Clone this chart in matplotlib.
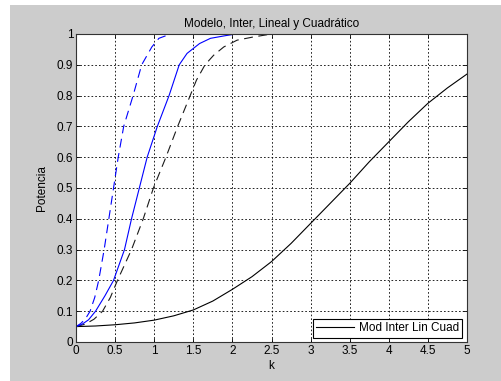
import matplotlib
matplotlib.use("Agg")
import matplotlib.pyplot as plt
from matplotlib.patches import Rectangle

plt.rcParams['font.family'] = ['Liberation Sans', 'DejaVu Sans']

# power curves (k vs potencia) read per model
k_lin_dash = [0, 0.06, 0.12, 0.18, 0.24, 0.29, 0.36, 0.42, 0.48, 0.54, 0.61, 0.73, 0.84, 0.97, 1.06, 1.21, 5.0]
p_lin_dash = [0.05, 0.06, 0.075, 0.10, 0.145, 0.20, 0.30, 0.40, 0.50, 0.60, 0.70, 0.80, 0.90, 0.958, 0.986, 1.0, 1.0]

k_lin = [0, 0.08, 0.16, 0.25, 0.37, 0.48, 0.62, 0.71, 0.81, 0.91, 1.04, 1.19, 1.32, 1.42, 1.58, 1.72, 1.92, 2.05, 5.0]
p_lin = [0.05, 0.058, 0.072, 0.10, 0.15, 0.20, 0.30, 0.40, 0.50, 0.60, 0.70, 0.80, 0.90, 0.937, 0.969,
         0.986, 0.995, 1.0, 1.0]

k_cuad_dash = [0, 0.12, 0.23, 0.34, 0.44, 0.53, 0.71, 0.86, 0.99, 1.15, 1.30, 1.46, 1.54, 1.65, 1.76,
               1.89, 2.06, 2.26, 2.5, 5.0]
p_cuad_dash = [0.05, 0.058, 0.074, 0.10, 0.145, 0.20, 0.30, 0.40, 0.50, 0.60, 0.70, 0.80, 0.85, 0.90,
               0.931, 0.958, 0.98, 0.99, 1.0, 1.0]

k_inter = [0, 0.25, 0.5, 0.75, 1, 1.25, 1.5, 1.75, 2, 2.25, 2.5, 2.75, 3, 3.25, 3.5, 3.75, 4, 4.25, 4.5, 4.75, 5]
p_inter = [0.05, 0.052, 0.056, 0.062, 0.071, 0.085, 0.104, 0.133, 0.171, 0.212, 0.261, 0.32, 0.385,
           0.45, 0.515, 0.585, 0.65, 0.715, 0.775, 0.825, 0.87]

xticks = [0, 0.5, 1, 1.5, 2, 2.5, 3, 3.5, 4, 4.5, 5]
xticklabels = ['0', '0.5', '1', '1.5', '2', '2.5', '3', '3.5', '4', '4.5', '5']
yticks = [0, 0.1, 0.2, 0.3, 0.4, 0.5, 0.6, 0.7, 0.8, 0.9, 1]
yticklabels = ['0', '0.1', '0.2', '0.3', '0.4', '0.5', '0.6', '0.7', '0.8', '0.9', '1']

fig = plt.figure(figsize=(5.02, 3.81), dpi=100, facecolor='white')
# grey figure window area
fig.patches.append(Rectangle((10 / 502, 0), 1 - 10 / 502, 1 - 5 / 381,
                             transform=fig.transFigure, facecolor='#cccccc',
                             edgecolor='none', zorder=-1))

ax = fig.add_axes([76 / 502, 1 - 342 / 381, 391 / 502, 308 / 381])
ax.set_facecolor('white')

ax.plot(k_inter, p_inter, color='black', lw=0.8, label='Mod Inter Lin Cuad')
ax.plot(k_cuad_dash, p_cuad_dash, color='#1a1a1a', lw=0.8, dashes=(8, 5))
ax.plot(k_lin, p_lin, color='#0000ff', lw=0.8)
ax.plot(k_lin_dash, p_lin_dash, color='#0000ff', lw=0.8, dashes=(8, 5))

ax.set_xlim(0, 5)
ax.set_ylim(0, 1)
ax.set_xticks(xticks)
ax.set_xticklabels(xticklabels)
ax.set_yticks(yticks)
ax.set_yticklabels(yticklabels)
ax.grid(True, color='black', linestyle=(0, (2, 2.5)), lw=0.6)
ax.tick_params(direction='in', length=3, width=0.6, top=True, right=True,
               labelsize=8.5, pad=2, colors='black')
for sp in ax.spines.values():
    sp.set_color('#333333')
    sp.set_linewidth(0.8)

ax.set_title('Modelo, Inter, Lineal y Cuadrático', fontsize=8.5, pad=5)
ax.set_xlabel('k', fontsize=8.5, labelpad=2)
ax.set_ylabel('Potencia', fontsize=8.5, labelpad=6)

leg = ax.legend(loc='lower right', bbox_to_anchor=(0.988, 0.013), borderaxespad=0,
                fontsize=8.5, fancybox=False, framealpha=1, edgecolor='black',
                handlelength=3.2, borderpad=0.3, handletextpad=0.4)
leg.get_frame().set_linewidth(0.8)

fig.savefig('out.png', dpi=100, facecolor=fig.get_facecolor())
